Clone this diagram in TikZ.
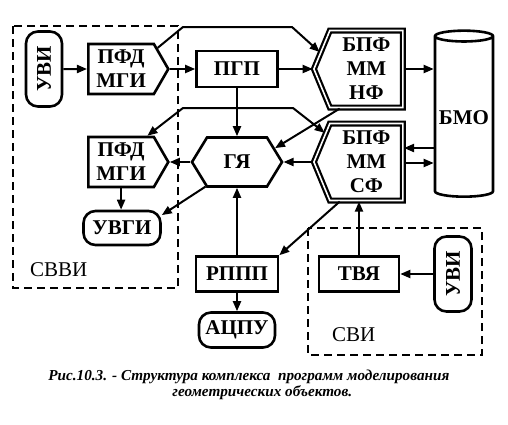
\documentclass[tikz,border=0pt]{standalone}
\usepackage{fontspec}
\setmainfont{Liberation Serif}
\newfontfamily\blockfont{Liberation Serif}
\usetikzlibrary{positioning,calc,shapes,arrows.meta}

\begin{document}
\begin{tikzpicture}[x=0.5pt, y=-0.5pt,
	>={Triangle[length=5pt, width=4pt]},
	box/.style={draw, line width=1.3pt, font=\blockfont\bfseries\fontsize{10.5}{12}\selectfont, inner sep=1pt, align=center},
	rbox/.style={box, rounded corners=6pt},
	sig/.style={box, signal, signal to=east, signal pointer angle=120},
	dsig/.style={box, signal, signal to=west, signal pointer angle=135, double, line width=1.1pt, double distance=0.8pt},
	frame/.style={line width=1.3pt, dash pattern=on 4pt off 2.5pt},
	conn/.style={line width=1pt},
	caption/.style={font=\blockfont\bfseries\itshape\fontsize{7.6}{8}\selectfont, inner sep=0pt}]
	\useasboundingbox (0,0) rectangle (508,424);
	% dashed frames
	\draw[frame] (13,26) rectangle (178,288);
	\node[anchor=west] (svvi) at (23,270) {\blockfont\fontsize{10.5}{12}\selectfont СВВИ};
	\draw[frame] (308,228) rectangle (482,355);
	\node[anchor=west] (svi) at (325,335) {\blockfont\fontsize{10.5}{12}\selectfont СВИ};
	% blocks
	\node[rbox, rotate=90, minimum width=37.5pt, minimum height=18pt] (uvi1) at (44,69) {УВИ};
	\node[sig, anchor=west, minimum width=40pt, minimum height=25pt] (pfd1) at (87,69) {ПФД\\МГИ};
	\node[box, minimum width=40.5pt, minimum height=18pt] (pgp) at (237,69) {ПГП};
	\node[dsig, anchor=east, minimum width=44.5pt, minimum height=38.5pt] (nf) at (404,69) {БПФ\\ММ\\НФ};
	\node[dsig, anchor=east, minimum width=44.5pt, minimum height=38.5pt] (sf) at (404,162) {БПФ\\ММ\\СФ};
	\node[box, cylinder, shape border rotate=90, aspect=0.2, minimum height=83pt, minimum width=29pt] (bmo) at (464,118) {БМО};
	\node[box, signal, signal to=west and east, signal pointer angle=117, minimum width=45pt, minimum height=24.5pt] (gya) at (237,162) {ГЯ};
	\node[sig, anchor=west, minimum width=40pt, minimum height=25pt] (pfd2) at (87,162) {ПФД\\МГИ};
	\node[rbox, minimum width=38.5pt, minimum height=17pt] (uvgi) at (122,228) {УВГИ};
	\node[box, minimum width=41pt, minimum height=17.5pt] (rppp) at (237,274) {РППП};
	\node[rbox, minimum width=38pt, minimum height=17.5pt] (acpu) at (237,330) {АЦПУ};
	\node[box, minimum width=40pt, minimum height=17.5pt] (tvya) at (359,274) {ТВЯ};
	\node[rbox, rotate=90, minimum width=37.5pt, minimum height=18.5pt] (uvi2) at (453,274) {УВИ};
	% connectors
	\draw[conn, ->] (uvi1) -- (pfd1);
	\draw[conn, ->] (pfd1.east) -- (pgp.west);
	\draw[conn, ->] (pgp.east) -- (nf.west);
	\draw[conn, ->] (pfd1.30) -- (183,27) -- (292,27) -- (nf.160);
	\draw[conn, <->] (pfd2.45) -- (183,108) -- (293,108) -- (sf.145);
	\draw[conn, ->] (nf.236) -- (gya.20);
	\draw[conn, ->] (sf.west) -- (gya.east);
	\draw[conn, ->] (gya.west) -- (pfd2.east);
	\draw[conn, ->] (pgp.south) -- (gya.north);
	\draw[conn, ->] (pfd2.south) -- (pfd2.south |- uvgi.north);
	\draw[conn, ->] (gya.218) -- (uvgi.18);
	\draw[conn, ->] (rppp.north) -- (gya.south);
	\draw[conn, ->] (sf.236) -- (rppp.north east);
	\draw[conn, ->] (rppp.south) -- (acpu.north);
	\draw[conn, ->] (tvya.north) -- (tvya.north |- sf.south);
	\draw[conn, ->] (uvi2) -- (tvya);
	\draw[conn, ->] (nf.east) -- (nf.east -| bmo.west);
	\draw[conn, ->] ([yshift=7pt]sf.east -| bmo.west) -- ([yshift=7pt]sf.east);
	\draw[conn, ->] ([yshift=-0.5pt]sf.east) -- ([yshift=-0.5pt]sf.east -| bmo.west);
	% caption
	\node[caption, anchor=west] (cap1) at (48,377) {Рис.10.3. - Структура комплекса\ \ программ моделирования};
	\node[caption, anchor=west] (cap2) at (172,393) {геометрических объектов.};
\end{tikzpicture}
\end{document}
